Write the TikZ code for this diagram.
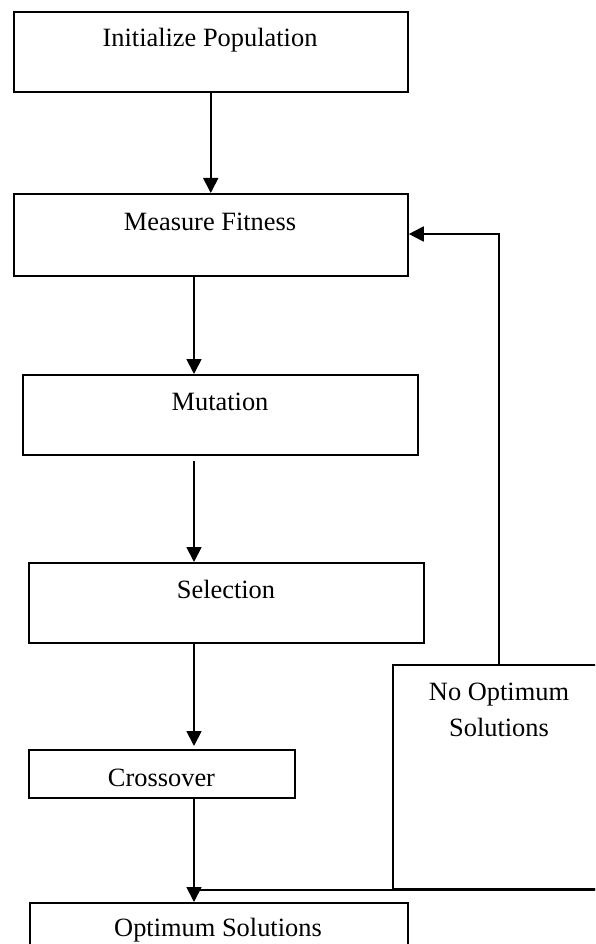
\documentclass[tikz,border=0pt]{standalone}
\usepackage{fontspec}
\setmainfont{Liberation Serif}
\usetikzlibrary{arrows.meta,calc}
\begin{document}
\begin{tikzpicture}[x=1pt,y=-1pt,
  box/.style={draw, line width=1.8pt, inner sep=0pt, anchor=north west},
  lbl/.style={anchor=base, inner sep=0pt, font=\fontsize{26.4}{36}\selectfont},
  conn/.style={line width=1.8pt},
  arr/.style={conn, -{Triangle[length=15pt,width=15pt]}}]
\useasboundingbox (0,0) rectangle (595,944);
\clip (0,0) rectangle (595,944);
% boxes
\node[box, minimum width=394.3pt, minimum height=80pt] (init) at (12.7,11) {};
\node[box, minimum width=394.3pt, minimum height=82pt] (meas) at (12.7,193) {};
\node[box, minimum width=395pt, minimum height=80pt] (mut) at (22,374) {};
\node[box, minimum width=395pt, minimum height=80pt] (sel) at (28,562) {};
\node[box, minimum width=266pt, minimum height=48pt] (cross) at (28,749) {};
\node[box, minimum width=378pt, minimum height=82pt] (opt) at (29,902) {};
\node[box, minimum width=214.3pt, minimum height=224pt] (noopt) at (391.7,664) {};
% labels
\node[lbl] (t1) at (210,46.7) {Initialize Population};
\node[lbl] (t2) at (210,230) {Measure Fitness};
\node[lbl] (t3) at (220,410) {Mutation};
\node[lbl] (t4) at (226,598) {Selection};
\node[lbl] (t5) at (161.5,786) {Crossover};
\node[lbl] (t6) at (218,936) {Optimum Solutions};
\node[lbl] (t7) at (499,700) {No Optimum};
\node[lbl] (t8) at (499,736) {Solutions};
% connectors
\coordinate (ax) at (194,0);
\coordinate (fx) at (499,0);
\coordinate (fy) at (0,234);
\draw[arr] (init.south) -- (meas.north);
\draw[arr] (meas.south -| ax) -- (mut.north -| ax);
\draw[arr, shorten <=5pt] (mut.south -| ax) -- (sel.north -| ax);
\draw[arr, shorten >=3pt] (sel.south -| ax) -- (cross.north -| ax);
\draw[arr] (cross.south -| ax) -- (opt.north -| ax);
\draw[arr] (noopt.north -| fx) -- (fx |- fy) -- (meas.east |- fy);
\draw[conn] (noopt.south east) -- (noopt.south -| ax);
\end{tikzpicture}
\end{document}
